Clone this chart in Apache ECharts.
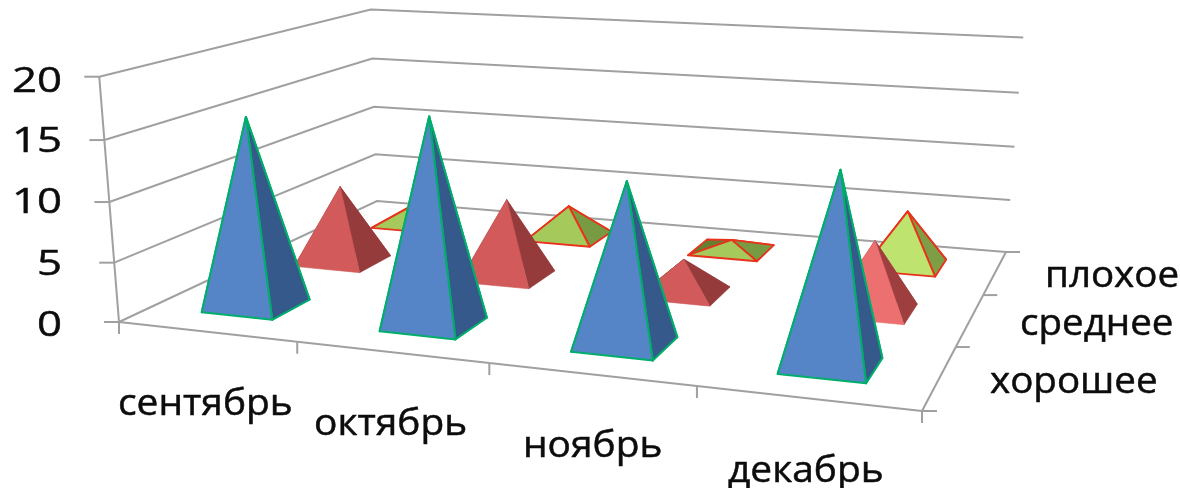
<!DOCTYPE html>
<html><head><meta charset="utf-8">
<style>html,body{margin:0;padding:0;background:#fff}#c{width:1180px;height:488px}</style>
<script src="https://cdn.jsdelivr.net/npm/echarts@6/dist/echarts.min.js"></script></head>
<body><div id="c"></div>
<script>
const months = ['сентябрь','октябрь','ноябрь','декабрь'];
const depths = ['хорошее','среднее','плохое'];
const valueTicks = [0,5,10,15,20];
const good = [16,17,13,15];
const medium = [7,7,3,6];
const bad = [2,3,1,5];

// Perspective frame of the 3D box: floor corners on screen + vanishing point of verticals
const FL=[119,322],FR=[922,411],BR=[1006,252],BL=[377,201],VP=[560,5800],VK=-0.04286;
const dx1=FR[0]-BR[0],dx2=BL[0]-BR[0],sx=FL[0]-FR[0]+BR[0]-BL[0];
const dy1=FR[1]-BR[1],dy2=BL[1]-BR[1],sy=FL[1]-FR[1]+BR[1]-BL[1];
const den=dx1*dy2-dx2*dy1,G=(sx*dy2-dx2*sy)/den,H=(dx1*sy-sx*dy1)/den;
function P(u,v,w){
  const d=1+G*u+H*v+VK*w;
  return [(FL[0]+(FR[0]-FL[0]+G*FR[0])*u+(BL[0]-FL[0]+H*BL[0])*v+VK*w*VP[0])/d,
          (FL[1]+(FR[1]-FL[1]+G*FR[1])*u+(BL[1]-FL[1]+H*BL[1])*v+VK*w*VP[1])/d];
}
function norm(api,params,cat,val){
  const c=api.coord([cat,val]),s=params.coordSys;
  return [(c[0]-s.x)/s.width,(s.y+s.height-c[1])/s.height];
}
const FONT='"Open Sans","Noto Sans",sans-serif', INK='#0c0c0c', GRID='#a0a0a0';
function line(a,b,w){return {type:'line',shape:{x1:a[0],y1:a[1],x2:b[0],y2:b[1]},style:{stroke:GRID,lineWidth:w||2}};}
function poly(pts,w){return {type:'polyline',shape:{points:pts},style:{stroke:GRID,lineWidth:w||2,fill:null}};}
function label(t,x,y,size,sc,align){
  return {type:'text',x:x,y:y,scaleX:sc,style:{text:t,font:size+'px '+FONT,fill:INK,stroke:INK,lineWidth:0.5,textAlign:align||'left',textVerticalAlign:'middle'}};
}
const valueLabelY=[326,265,203,142,82];
const monthLabelX=[118,314,523,728], monthLabelY=[405,425,447,472];
const depthLabelX=[990,1020,1045], depthLabelY=[383,325,277];

const styles=[
 {faces:['#5585C6','#35598B','#3D6498','#35598B'],stroke:'#00AE6C',lw:2},
 {faces:['#D25A5A','#963B3B','#A84444','#963B3B'],stroke:null,lw:0},
 {faces:['#A6C95B','#789A42','#6F8F36','#648030'],stroke:'#E8321C',lw:1.8}
];
const bright={1:{faces:['#EC7070','#9E3E3E','#A84444','#963B3B'],stroke:null,lw:0},
              2:{faces:['#BEE36F','#7D9E45','#6F8F36','#648030'],stroke:'#E8321C',lw:1.8}};
const BW=0.405;
function pyramid(depth){
  return function(params,api){
    const cat=api.value(0),val=api.value(1);
    const [u,w]=norm(api,params,cat,val);
    const v=(depth+.5)/depths.length;
    const du=BW/months.length/2,dv=BW/depths.length/2;
    const a=P(u-du,v-dv,0),b=P(u+du,v-dv,0),c=P(u+du,v+dv,0),d=P(u-du,v+dv,0),t=P(u,v,w);
    const st=(cat===3&&bright[depth])||styles[depth];
    const face=(p,q,col)=>({type:'polygon',shape:{points:[p,q,t]},
      style:{fill:col,stroke:st.stroke||col,lineWidth:st.lw||0.6,lineJoin:'round'}});
    return {type:'group',children:[face(c,d,st.faces[2]),face(d,a,st.faces[3]),face(b,c,st.faces[1]),face(a,b,st.faces[0])]};
  };
}
function pyrSeries(name,vals,depth){
  return {name:name,type:'custom',coordinateSystem:'cartesian2d',z:5+(2-depth),silent:true,clip:false,
    encode:{x:0,y:1},renderItem:pyramid(depth),data:vals.map((x,i)=>[i,x])};
}
const frameValues={name:'value axis',type:'custom',z:1,silent:true,clip:false,encode:{x:0,y:1},
  data:valueTicks.map(t=>[0,t]),
  renderItem(params,api){
    const w=norm(api,params,0,api.value(1))[1],i=params.dataIndex;
    const a=P(0,0,w),b=P(0,1,w),c=P(1,1,w);
    const kids=[poly([a,b,c]),line(a,[a[0]-15,a[1]]),
      label(String(valueTicks[i]),62,valueLabelY[i],35,1.25,'right')];
    if(i===0) kids.push(line(P(0,0,0),P(0,0,1)),line(a,[a[0],a[1]+12]));
    return {type:'group',children:kids};
  }};
const frameMonths={name:'category axis',type:'custom',z:1,silent:true,clip:false,encode:{x:0,y:1},
  data:months.map((m,i)=>[i,0]),
  renderItem(params,api){
    const i=params.dataIndex,n=months.length;
    const a=P(i/n,0,0),b=P((i+1)/n,0,0);
    return {type:'group',children:[line(a,b),line(b,[b[0],b[1]+12]),
      label(months[i],monthLabelX[i],monthLabelY[i],36,1.08)]};
  }};
const frameDepth={name:'depth axis',type:'custom',z:1,silent:true,clip:false,encode:{x:0,y:1},
  data:depths.map((m,i)=>[0,0]),
  renderItem(params,api){
    const i=params.dataIndex,n=depths.length;
    const a=P(1,i/n,0),b=P(1,(i+1)/n,0);
    return {type:'group',children:[line(a,b),line(b,[b[0]+14,b[1]]),
      i===0?line(a,[a[0]+15,a[1]]):line(a,a),
      label(depths[i],depthLabelX[i],depthLabelY[i],36,1.07)]};
  }};
const chart=echarts.init(document.getElementById('c'),null,{renderer:'canvas'});
chart.setOption({
  animation:false,backgroundColor:'#fff',
  grid:{left:100,right:100,top:40,bottom:40},
  xAxis:{type:'category',data:months,show:false},
  yAxis:{type:'value',min:0,max:20,interval:5,show:false},
  series:[frameValues,frameMonths,frameDepth,pyrSeries(depths[2],bad,2),pyrSeries(depths[1],medium,1),pyrSeries(depths[0],good,0)]
});
</script></body></html>
